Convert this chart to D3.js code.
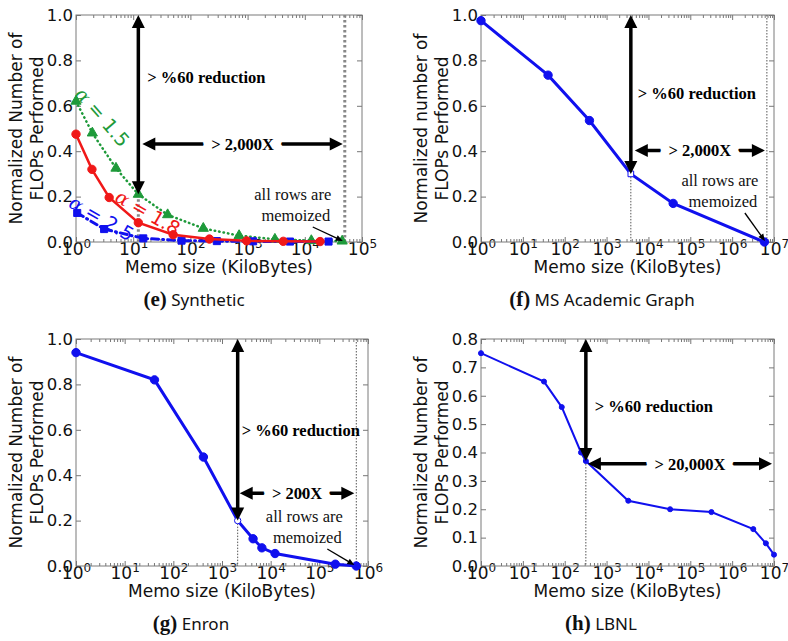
<!DOCTYPE html>
<html>
<head>
<meta charset="utf-8">
<script src="https://cdn.jsdelivr.net/npm/d3@7"></script>
<style>
  body { margin: 0; background: #fff; }
  svg { display: block; }
</style>
</head>
<body>
<svg id="chart" width="788" height="641"></svg>
<script>
// ---- data ----
// (e) Synthetic, three skew values
const synthAlpha = ['1.5', '1.8', '2.5'];
const synthMemo15 = [1, 1.93, 5, 12.3, 40, 168, 710, 3000, 13000, 45000];
const synthFlops15 = [0.62, 0.48, 0.325, 0.21, 0.12, 0.06, 0.028, 0.012, 0.006, 0.004];
const synthMemo18 = [1, 1.9, 3.8, 12.3, 50, 215, 960, 4200, 18500];
const synthFlops18 = [0.475, 0.32, 0.196, 0.085, 0.032, 0.013, 0.005, 0.003, 0.002];
const synthMemo25 = [1.05, 3.1, 15, 70, 290, 1250, 5500, 26000];
const synthFlops25 = [0.128, 0.057, 0.016, 0.006, 0.004, 0.003, 0.002, 0.002];

// (f) MS Academic Graph
const magMemo = [1, 40, 390, 3800, 39000, 5.9e6];
const magFlops = [0.975, 0.735, 0.535, 0.30, 0.17, 0.0];

// (g) Enron
const enronMemo = [1, 41, 415, 2100, 4350, 6600, 12300, 213000, 575000];
const enronFlops = [0.94, 0.82, 0.48, 0.20, 0.12, 0.08, 0.055, 0.008, 0.0];

// (h) LBNL
const lbnlMemo = [1, 32, 85, 245, 320, 3300, 33000, 320000, 3.2e6, 6.4e6, 1e7];
const lbnlFlops = [0.75, 0.65, 0.56, 0.40, 0.37, 0.23, 0.20, 0.19, 0.13, 0.08, 0.04];

// ticks
const yTicksUnit = [0, 0.2, 0.4, 0.6, 0.8, 1.0];
const yTicksLbnl = [0, 0.1, 0.2, 0.3, 0.4, 0.5, 0.6, 0.7, 0.8];
const xDecadesSynth = [0, 1, 2, 3, 4, 5];
const xDecadesMag = [0, 1, 2, 3, 4, 5, 6, 7];
const xDecadesEnron = [0, 1, 2, 3, 4, 5, 6];
const xDecadesLbnl = [0, 1, 2, 3, 4, 5, 6, 7];

const GREEN = '#1e9a3a', RED = '#f01818', BLUE = '#1010ee';
const SANS = 'DejaVu Sans', SERIF = 'Liberation Serif';

const svg = d3.select('#chart');

function arrow(g, x1, y1, x2, y2, o) {
    const len = Math.hypot(x2 - x1, y2 - y1);
    const ux = (x2 - x1) / len, uy = (y2 - y1) / len;
    const s = o.both ? o.head * 0.8 : 0;
    g.append('line')
        .attr('x1', x1 + ux * s).attr('y1', y1 + uy * s)
        .attr('x2', x2 - ux * o.head * 0.8).attr('y2', y2 - uy * o.head * 0.8)
        .attr('stroke', '#000').attr('stroke-width', o.width);
    const head = (tx, ty, dx, dy) => {
        const bx = tx - dx * o.head, by = ty - dy * o.head;
        g.append('path')
            .attr('d', `M${tx},${ty}L${bx - dy * o.half},${by + dx * o.half}L${bx + dy * o.half},${by - dx * o.half}Z`)
            .attr('fill', '#000');
    };
    head(x2, y2, ux, uy);
    if (o.both) head(x1, y1, -ux, -uy);
}

function drawPanel(cfg) {
    const g = svg.append('g');
    const x = d3.scaleLog().domain([10 ** cfg.decades[0], 10 ** cfg.decades[cfg.decades.length - 1]])
        .range([cfg.left, cfg.right]);
    const y = d3.scaleLinear().domain([0, cfg.yTicks[cfg.yTicks.length - 1]]).range([cfg.bottom, cfg.top]);

    const majors = cfg.decades.map(e => 10 ** e);
    const minors = [];
    cfg.decades.slice(0, -1).forEach(e => { for (let k = 2; k < 10; k++) minors.push(k * 10 ** e); });

    // axes, ticks pointing inward
    const yl = g.append('g').attr('transform', `translate(${cfg.left},0)`)
        .call(d3.axisLeft(y).tickValues(cfg.yTicks).tickSize(-5).tickPadding(3).tickFormat(d3.format('.1f')));
    g.append('g').attr('transform', `translate(${cfg.right},0)`)
        .call(d3.axisRight(y).tickValues(cfg.yTicks).tickSize(-5).tickFormat(''));
    const xb = g.append('g').attr('transform', `translate(0,${cfg.bottom})`)
        .call(d3.axisBottom(x).tickValues(majors).tickSize(-5).tickPadding(2).tickFormat(''));
    g.append('g').attr('transform', `translate(0,${cfg.bottom})`)
        .call(d3.axisBottom(x).tickValues(minors).tickSize(-3).tickFormat(''));
    g.append('g').attr('transform', `translate(0,${cfg.top})`)
        .call(d3.axisTop(x).tickValues(majors).tickSize(-5).tickFormat(''));
    g.append('g').attr('transform', `translate(0,${cfg.top})`)
        .call(d3.axisTop(x).tickValues(minors).tickSize(-3).tickFormat(''));
    g.selectAll('.domain').remove();
    g.selectAll('.tick line').attr('stroke', '#777');

    yl.selectAll('text').attr('font-family', SANS).attr('font-size', 16.5).attr('fill', '#111');

    xb.selectAll('.tick').each(function (d) {
        const t = d3.select(this).select('text')
            .attr('font-family', SANS).attr('font-size', 17).attr('fill', '#111')
            .attr('y', 13).attr('dy', null);
        t.append('tspan').text('10');
        t.append('tspan').attr('font-size', 12).attr('dy', -7).text(Math.round(Math.log10(d)));
    });

    g.append('rect')
        .attr('x', cfg.left).attr('y', cfg.top)
        .attr('width', cfg.right - cfg.left).attr('height', cfg.bottom - cfg.top)
        .attr('fill', 'none').attr('stroke', '#7a7a7a').attr('stroke-width', 1);

    // axis titles
    const cy = (cfg.top + cfg.bottom) / 2;
    cfg.yTitle.forEach((line, i) => {
        g.append('text')
            .attr('transform', `translate(${cfg.left - 54 + i * 21},${cy}) rotate(-90)`)
            .attr('text-anchor', 'middle')
            .attr('font-family', SANS).attr('font-size', 17).attr('fill', '#111')
            .text(line);
    });
    g.append('text')
        .attr('x', (cfg.left + cfg.right) / 2).attr('y', cfg.bottom + 31)
        .attr('text-anchor', 'middle')
        .attr('font-family', SANS).attr('font-size', 17).attr('fill', '#111')
        .text('Memo size (KiloBytes)');

    // caption
    const cap = g.append('text')
        .attr('x', cfg.capX).attr('y', cfg.bottom + 64)
        .attr('text-anchor', 'middle').attr('fill', '#111');
    cap.append('tspan').attr('font-family', SERIF).attr('font-weight', 'bold').attr('font-size', 21).text(cfg.capTag);
    cap.append('tspan').attr('font-family', 'Noto Sans').attr('font-size', 17).text(' ' + cfg.capName);

    // guide lines
    const a = cfg.ann;
    const mx = x(a.markX), my = y(a.markY);
    g.append('line')
        .attr('x1', mx).attr('x2', mx).attr('y1', my).attr('y2', cfg.bottom)
        .attr('stroke', a.guideColor).attr('stroke-width', a.guideWidth).attr('stroke-dasharray', a.guideDash);
    if (a.rightX) {
        g.append('line')
            .attr('x1', x(a.rightX)).attr('x2', x(a.rightX)).attr('y1', cfg.top).attr('y2', cfg.bottom)
            .attr('stroke', a.guideColor).attr('stroke-width', a.guideWidth).attr('stroke-dasharray', a.guideDash);
    }

    // series
    const line = d3.line().x(d => x(d[0])).y(d => y(d[1]));
    cfg.series.forEach(s => {
        const pts = d3.zip(s.memo, s.flops);
        g.append('path').datum(pts)
            .attr('d', line)
            .attr('fill', 'none').attr('stroke', s.color).attr('stroke-width', s.width)
            .attr('stroke-dasharray', s.dash || null).attr('stroke-linecap', s.dash ? 'round' : 'butt');
        g.selectAll(null).data(pts).enter().append('path')
            .attr('transform', d => `translate(${x(d[0])},${y(d[1])})`)
            .attr('d', (d, i) => d3.symbol().type(i === s.open ? s.openSymbol : s.symbol)
                .size(i === s.open ? 32 : s.size)())
            .attr('fill', (d, i) => i === s.open ? '#fff' : s.color)
            .attr('stroke', s.color).attr('stroke-width', 1);
    });

    // annotations
    arrow(g, mx, cfg.top, mx, my, { both: true, head: 13, half: 6.5, width: 3.5 });
    g.append('text')
        .attr('x', mx + a.redDx).attr('y', y(a.redY))
        .attr('font-family', SERIF).attr('font-weight', 'bold').attr('font-size', 16.5).attr('fill', '#000')
        .text('> %60 reduction');

    const hx1 = mx + a.hPad, hx2 = a.rightX ? x(a.rightX) - 2 : cfg.right - 2, hy = y(a.hY);
    arrow(g, hx1, hy, hx2, hy, { both: true, head: 13, half: 6.5, width: 3.5 });
    g.append('text')
        .attr('x', (hx1 + hx2) / 2 + (a.hTextDx || 0)).attr('y', hy).attr('dy', '0.35em')
        .attr('text-anchor', 'middle')
        .attr('font-family', SERIF).attr('font-weight', 'bold').attr('font-size', 16.5).attr('fill', '#000')
        .attr('stroke', '#fff').attr('stroke-width', 18).attr('stroke-linejoin', 'round')
        .attr('paint-order', 'stroke')
        .text(a.hLabel);

    if (a.rightX) {
        const rx = x(a.rightX);
        const memo = g.append('text')
            .attr('text-anchor', 'middle')
            .attr('font-family', SERIF).attr('font-size', 16.5).attr('fill', '#111');
        memo.append('tspan').attr('x', rx + a.noteDx).attr('y', cfg.bottom + a.noteDy).text('all rows are');
        memo.append('tspan').attr('x', rx + a.noteDx + 3).attr('y', cfg.bottom + a.noteDy + 21).text('memoized');
        arrow(g, rx + a.ptr[0], cfg.bottom + a.ptr[1], rx - 2, cfg.bottom - 1,
            { both: false, head: 7, half: 3, width: 1.3 });
    }

    (cfg.alphaLabels || []).forEach(l => {
        const t = g.append('text')
            .attr('transform', `translate(${x(l.x)},${y(l.y)}) rotate(${l.rot})`)
            .attr('text-anchor', 'middle').attr('dy', '0.35em')
            .attr('font-family', SANS).attr('font-size', 19).attr('fill', l.color);
        t.append('tspan').attr('font-style', 'italic').attr('font-family', 'DejaVu Serif').text('α');
        t.append('tspan').text(' = ' + l.text);
    });
}

drawPanel({
    left: 76, right: 362, top: 15, bottom: 242,
    decades: xDecadesSynth, yTicks: yTicksUnit,
    yTitle: ['Normalized Number of', 'FLOPs Performed'],
    capX: 194, capTag: '(e)', capName: 'Synthetic',
    series: [
        { memo: synthMemo15, flops: synthFlops15, color: GREEN, width: 2.5, dash: '0.5,4', symbol: d3.symbolTriangle, size: 45 },
        { memo: synthMemo25, flops: synthFlops25, color: BLUE, width: 3, dash: '7,4,1,4', symbol: d3.symbolSquare, size: 50 },
        { memo: synthMemo18, flops: synthFlops18, color: RED, width: 2.5, symbol: d3.symbolCircle, size: 55 }
    ],
    alphaLabels: [
        { x: 2.9, y: 0.55, rot: 49, color: GREEN, text: synthAlpha[0] },
        { x: 18, y: 0.13, rot: 30, color: RED, text: synthAlpha[1] },
        { x: 2.8, y: 0.105, rot: 30, color: BLUE, text: synthAlpha[2] }
    ],
    ann: {
        markX: synthMemo15[3], markY: synthFlops15[3], rightX: 50000,
        guideColor: '#888', guideWidth: 3, guideDash: '2.5,2.5',
        redDx: 9, redY: 0.70, hPad: 4, hY: 0.432, hLabel: '> 2,000X',
        noteDx: -52, noteDy: -42, ptr: [-32, -15]
    }
});

drawPanel({
    left: 481, right: 774, top: 15, bottom: 242,
    decades: xDecadesMag, yTicks: yTicksUnit,
    yTitle: ['Normalized number of', 'FLOPs Performed'],
    capX: 602, capTag: '(f)', capName: 'MS Academic Graph',
    series: [
        { memo: magMemo, flops: magFlops, color: BLUE, width: 3, symbol: d3.symbolCircle, size: 55,
          open: 3, openSymbol: d3.symbolSquare }
    ],
    ann: {
        markX: magMemo[3], markY: magFlops[3], rightX: 6.76e6,
        guideColor: '#555', guideWidth: 1, guideDash: '1.5,1.5',
        redDx: 7, redY: 0.63, hPad: 4, hY: 0.403, hLabel: '> 2,000X',
        noteDx: -47, noteDy: -56, ptr: [-22, -29]
    }
});

drawPanel({
    left: 76, right: 368, top: 339, bottom: 566,
    decades: xDecadesEnron, yTicks: yTicksUnit,
    yTitle: ['Normalized Number of', 'FLOPs Performed'],
    capX: 191, capTag: '(g)', capName: 'Enron',
    series: [
        { memo: enronMemo, flops: enronFlops, color: BLUE, width: 3, symbol: d3.symbolCircle, size: 55,
          open: 3, openSymbol: d3.symbolCircle }
    ],
    ann: {
        markX: enronMemo[3], markY: enronFlops[3], rightX: 575000,
        guideColor: '#555', guideWidth: 1, guideDash: '1.5,1.5',
        redDx: 4, redY: 0.573, hPad: 2, hY: 0.32, hLabel: '> 200X',
        noteDx: -52, noteDy: -44, ptr: [-29, -17]
    }
});

drawPanel({
    left: 481, right: 774, top: 339, bottom: 566,
    decades: xDecadesLbnl, yTicks: yTicksLbnl,
    yTitle: ['Normalized Number of', 'FLOPs Performed'],
    capX: 601, capTag: '(h)', capName: 'LBNL',
    series: [
        { memo: lbnlMemo, flops: lbnlFlops, color: BLUE, width: 2, symbol: d3.symbolCircle, size: 20 }
    ],
    ann: {
        markX: lbnlMemo[4], markY: lbnlFlops[4], rightX: null,
        guideColor: '#555', guideWidth: 1, guideDash: '1.5,1.5',
        redDx: 9, redY: 0.544, hPad: 2, hY: 0.36, hLabel: '> 20,000X', hTextDx: 10
    }
});
</script>
</body>
</html>
